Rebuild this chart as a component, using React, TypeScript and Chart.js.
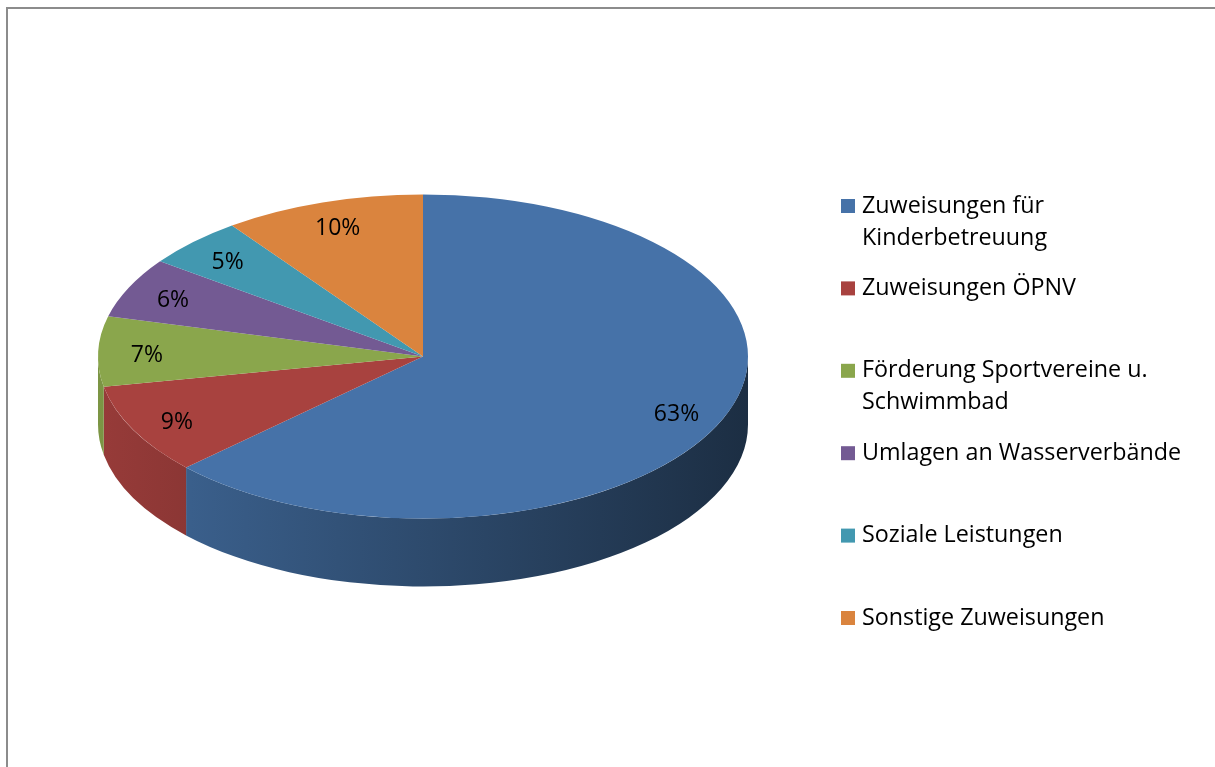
import React, { useEffect, useRef } from "react";
import { Chart, registerables } from "chart.js";

Chart.register(...registerables);

const categories: (string | string[])[] = [
  ["Zuweisungen für", "Kinderbetreuung"],
  "Zuweisungen ÖPNV",
  ["Förderung Sportvereine u.", "Schwimmbad"],
  "Umlagen an Wasserverbände",
  "Soziale Leistungen",
  "Sonstige Zuweisungen",
];
const shares = [63, 9, 7, 6, 5, 10];
const sliceColors = ["#4672A8", "#A8423F", "#8AA64C", "#735A93", "#4298B0", "#DA843E"];

const TILT = 0.4985;
const DEPTH = 68;
const FONT = "'Open Sans', 'Noto Sans', sans-serif";

function shade(hex: string, f: number): string {
  const n = parseInt(hex.slice(1), 16);
  const r = Math.round(((n >> 16) & 255) * f);
  const g = Math.round(((n >> 8) & 255) * f);
  const b = Math.round((n & 255) * f);
  return `rgb(${r},${g},${b})`;
}

const pie3d = {
  id: "pie3d",
  beforeDatasetsDraw(chart: any) {
    const ctx: CanvasRenderingContext2D = chart.ctx;
    const arcs = chart.getDatasetMeta(0).data;
    chart.$tilted = false;
    if (!arcs.length) return;
    const { x: cx, y: cy, outerRadius: R } = arcs[0].getProps(["x", "y", "outerRadius"], true);
    arcs.forEach((arc: any, i: number) => {
      const { startAngle, endAngle } = arc.getProps(["startAngle", "endAngle"], true);
      const a1 = Math.max(startAngle, 0);
      const a2 = Math.min(endAngle, Math.PI);
      if (a2 <= a1) return;
      const c = sliceColors[i];
      const g = ctx.createLinearGradient(cx - R, 0, cx + R, 0);
      g.addColorStop(0, shade(c, 0.9));
      g.addColorStop(1, shade(c, 0.4));
      ctx.beginPath();
      ctx.ellipse(cx, cy, R, R * TILT, 0, a1, a2);
      ctx.ellipse(cx, cy + DEPTH, R, R * TILT, 0, a2, a1, true);
      ctx.closePath();
      ctx.fillStyle = g;
      ctx.fill();
    });
    ctx.save();
    ctx.translate(cx, cy);
    ctx.scale(1, TILT);
    ctx.translate(-cx, -cy);
    chart.$tilted = true;
  },
  afterDatasetsDraw(chart: any) {
    const ctx: CanvasRenderingContext2D = chart.ctx;
    if (chart.$tilted) ctx.restore();
    const arcs = chart.getDatasetMeta(0).data;
    const values = chart.data.datasets[0].data as number[];
    ctx.save();
    ctx.font = `23px ${FONT}`;
    ctx.fillStyle = "#000";
    ctx.textAlign = "center";
    ctx.textBaseline = "middle";
    arcs.forEach((arc: any, i: number) => {
      const { x, y, startAngle, endAngle, outerRadius } = arc.getProps(
        ["x", "y", "startAngle", "endAngle", "outerRadius"],
        true
      );
      const mid = (startAngle + endAngle) / 2;
      const r = outerRadius * 0.85;
      ctx.fillText(`${values[i]}%`, x + Math.cos(mid) * r, y + Math.sin(mid) * r * TILT + 3);
    });
    ctx.restore();
  },
  afterDraw(chart: any) {
    const ctx: CanvasRenderingContext2D = chart.ctx;
    const labels = chart.data.labels as (string | string[])[];
    ctx.save();
    ctx.font = `23.3px ${FONT}`;
    ctx.textAlign = "left";
    ctx.textBaseline = "middle";
    labels.forEach((lab, i) => {
      const lines = Array.isArray(lab) ? lab : [lab];
      const y0 = 206 + i * 82.4;
      ctx.fillStyle = sliceColors[i];
      ctx.fillRect(841, y0 - 7, 14, 14);
      ctx.fillStyle = "#000";
      lines.forEach((t, j) => ctx.fillText(t, 862, y0 + j * 32));
    });
    ctx.restore();
  },
};

export default function App() {
  const ref = useRef<HTMLCanvasElement>(null);
  useEffect(() => {
    if (!ref.current) return;
    const chart = new Chart(ref.current, {
      type: "pie",
      data: {
        labels: categories as any,
        datasets: [
          {
            data: shares,
            backgroundColor: sliceColors,
            borderWidth: 0,
            clip: false as any,
          } as any,
        ],
      },
      options: {
        responsive: true,
        maintainAspectRatio: false,
        animation: false,
        events: [],
        layout: { padding: { left: 98, right: 467, top: 31, bottom: 85 } },
        plugins: { legend: { display: false }, tooltip: { enabled: false } },
      },
      plugins: [pie3d],
    });
    return () => chart.destroy();
  }, []);
  return (
    <div style={{ position: "fixed", left: 0, top: 0, width: 1215, height: 767, overflow: "hidden", background: "#fff" }}>
      <div
        style={{
          position: "absolute",
          left: 6,
          top: 7,
          width: 1400,
          height: 1000,
          borderTop: "2px solid #8c8c8c",
          borderLeft: "2px solid #8c8c8c",
        }}
      />
      <div style={{ position: "absolute", left: 0, top: 0, width: 1215, height: 767 }}>
        <canvas ref={ref} />
      </div>
    </div>
  );
}
